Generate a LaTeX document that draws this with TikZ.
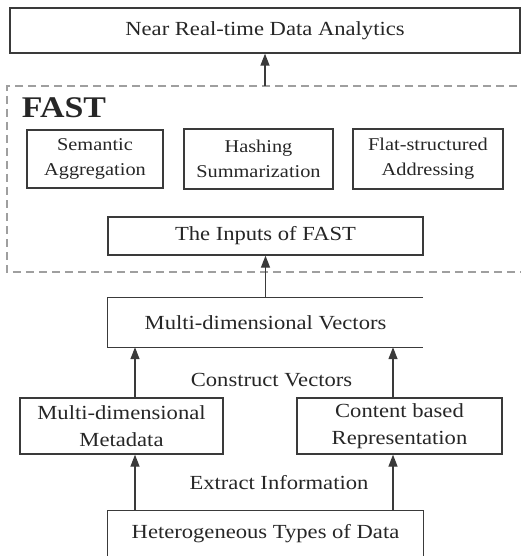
\documentclass[tikz,border=0pt]{standalone}
\usepackage{fontspec}
\setmainfont{Liberation Serif}[FakeStretch=1.13]
\usetikzlibrary{arrows.meta}
\definecolor{ln}{HTML}{3A3A3A}
\definecolor{tx}{HTML}{262626}
\begin{document}
\begin{tikzpicture}[x=1pt,y=-1pt,
  box/.style={draw=ln,line width=1.3pt,inner sep=0pt,text=tx,align=center},
  openbox/.style={inner sep=0pt,text=tx,align=center},
  big/.style={font=\fontsize{20}{27}\selectfont},
  small/.style={font=\fontsize{18}{25}\selectfont},
  lbl/.style={text=tx,font=\fontsize{20}{24}\selectfont,inner sep=0pt},
  arr/.style={draw=ln,line width=1.3pt,-{Triangle[width=9pt,length=12pt]}},
  dashbox/.style={draw=gray!75,line width=1.3pt,dash pattern=on 8pt off 5pt}]
\useasboundingbox (0,0) rectangle (521,556);
% top box
\node[box,big,minimum width=510pt,minimum height=45pt] (top) at (265,30.5) {Near Real-time Data Analytics};
% FAST dashed container (open on the right, cut by the page)
\coordinate (dtl) at (7,86);
\coordinate (dbl) at (7,272);
\draw[dashbox] (530,86) -- (dtl) -- (dbl) -- (530,272);
\coordinate (fasttop) at (265,86);
\node[text=tx,font=\fontsize{30}{30}\selectfont\bfseries,inner sep=0pt] (fast) at (64,108) {FAST};
\node[box,small,minimum width=136pt,minimum height=58pt] (sem) at (95,159) {Semantic\\Aggregation};
\node[box,small,minimum width=149pt,minimum height=60pt] (hash) at (258.5,159) {Hashing\\Summarization};
\node[box,small,minimum width=150pt,minimum height=60pt] (flat) at (428,159) {Flat-structured\\Addressing};
\node[box,big,minimum width=315pt,minimum height=38pt] (inp) at (265.5,236) {The Inputs of FAST};
% vectors (open on the right)
\node[openbox,big,minimum width=315pt,minimum height=49pt] (vec) at (265.5,322.5) {Multi-dimensional Vectors};
\draw[draw=ln,line width=1.3pt] (vec.north east) -- (vec.north west) -- (vec.south west) -- (vec.south east);
\node[lbl] (cv) at (271.5,380) {Construct Vectors};
\node[box,big,minimum width=203pt,minimum height=56pt] (meta) at (121.5,426) {Multi-dimensional\\Metadata};
\node[box,big,minimum width=205pt,minimum height=56pt] (cont) at (399.5,426) {Content based\\Representation};
\node[lbl] (ei) at (279,483) {Extract Information};
% heterogeneous (bottom cut by the page)
\node[openbox,big,minimum width=315pt,minimum height=60pt] (het) at (265.5,541) {};
\node[text=tx,big,inner sep=0pt] (hett) at (265.5,534) {Heterogeneous Types of Data};
\draw[draw=ln,line width=1.3pt] (het.south west) -- (het.north west) -- (het.north east) -- (het.south east);
% arrow columns
\coordinate (cl) at (135,0);
\coordinate (cr) at (393,0);
\draw[arr] (fasttop) -- (top.south);
\draw[arr] (vec.north) -- (inp.south);
\draw[arr] (meta.north -| cl) -- (vec.south -| cl);
\draw[arr] (cont.north -| cr) -- (vec.south -| cr);
\draw[arr] (het.north -| cl) -- (meta.south -| cl);
\draw[arr] (het.north -| cr) -- (cont.south -| cr);
\end{tikzpicture}
\end{document}
